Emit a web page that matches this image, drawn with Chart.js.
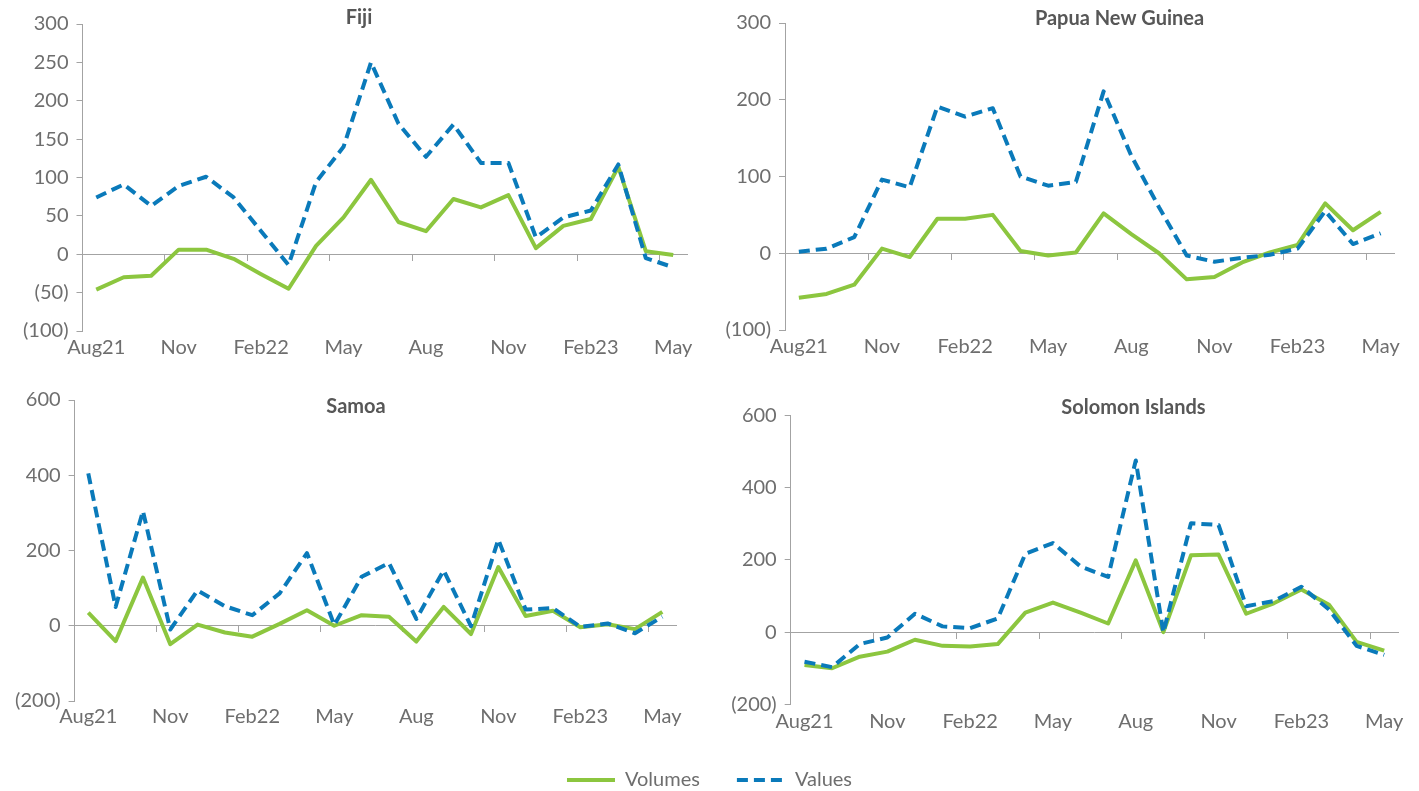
<!DOCTYPE html>
<html>
<head>
<meta charset="utf-8">
<title>Volumes and values by country</title>
<script src="https://cdn.jsdelivr.net/npm/chart.js@4.4.1/dist/chart.umd.min.js"></script>
<style>
  html, body { margin: 0; padding: 0; background: #ffffff; width: 1419px; height: 791px; overflow: hidden; }
  canvas { position: absolute; }
</style>
</head>
<body>
<canvas id="fiji"></canvas>
<canvas id="png"></canvas>
<canvas id="samoa"></canvas>
<canvas id="solomon"></canvas>
<canvas id="legend"></canvas>
<script>
// ---- data -------------------------------------------------------------
const categories = ['Aug21', 'Sep', 'Oct', 'Nov', 'Dec', 'Jan22', 'Feb22', 'Mar', 'Apr', 'May', 'Jun',
                    'Jul', 'Aug', 'Sep', 'Oct', 'Nov', 'Dec', 'Jan23', 'Feb23', 'Mar', 'Apr', 'May'];
const tickLabels = ['Aug21', 'Nov', 'Feb22', 'May', 'Aug', 'Nov', 'Feb23', 'May'];
const tickEvery = 3;
const seriesNames = ['Volumes', 'Values'];

const fijiVolumes = [-46, -30, -28, 6, 6, -6, -26, -45, 11, 48, 97, 42, 30, 72, 61, 77, 8, 37, 46, 114, 4, -1];
const fijiValues  = [74, 91, 63, 89, 101, 74, 30, -14, 94, 140, 250, 170, 127, 169, 119, 119, 22, 48, 57, 117, -5, -17];
const fijiYTicks  = [-100, -50, 0, 50, 100, 150, 200, 250, 300];

const pngVolumes = [-58, -53, -41, 6, -5, 45, 45, 50, 3, -3, 1, 52, 25, 0, -34, -31, -12, 1, 11, 65, 30, 54];
const pngValues  = [2, 6, 21, 96, 86, 191, 178, 189, 100, 88, 93, 211, 127, 60, -3, -11, -6, -2, 6, 55, 12, 26];
const pngYTicks  = [-100, 0, 100, 200, 300];

const samoaVolumes = [35, -41, 128, -49, 3, -18, -29, 5, 41, 0, 28, 24, -42, 50, -22, 156, 26, 40, -4, 4, -9, 37];
const samoaValues  = [405, 50, 305, -10, 94, 52, 28, 86, 193, 2, 130, 167, 18, 147, -1, 229, 43, 47, -3, 6, -20, 24];
const samoaYTicks  = [-200, 0, 200, 400, 600];

const solomonVolumes = [-91, -100, -68, -54, -21, -38, -40, -33, 54, 82, 54, 24, 199, 0, 213, 215, 51, 80, 118, 76, -27, -51];
const solomonValues  = [-82, -97, -33, -15, 51, 16, 11, 38, 217, 247, 182, 153, 476, -1, 302, 297, 72, 86, 126, 63, -38, -63];
const solomonYTicks  = [-200, 0, 200, 400, 600];

// ---- styling ----------------------------------------------------------
const GREEN = '#8cc63f';
const BLUE = '#0a7aba';
const AXIS = '#a3a3a3';
const TEXT = '#6e6e6e';
const TITLE = '#575757';
const FONT = 'Lato, "Open Sans", "DejaVu Sans", sans-serif';
const FONT_SIZE = 20;
const LINE_H = FONT_SIZE * 1.2;
const LABEL_SHIFT = 7;          // bottom labels sit this much above a plain half-line offset
const DASH = [11, 6];

// Placement of each panel on the page (canvas origin, plot area, title centre, x-label centre)
const panels = [
  { id: 'fiji', title: 'Fiji', volumes: fijiVolumes, values: fijiValues, yTicks: fijiYTicks,
    cx: 0, cy: 0, h: 370, L: 82.5, R: 687, T: 24, B: 331, titleX: 358.8, titleY: 17.8, labelY: 346.5 },
  { id: 'png', title: 'Papua New Guinea', volumes: pngVolumes, values: pngValues, yTicks: pngYTicks,
    cx: 710, cy: 0, h: 370, L: 785, R: 1394.5, T: 23, B: 330, titleX: 1119.6, titleY: 18.3, labelY: 345.5 },
  { id: 'samoa', title: 'Samoa', volumes: samoaVolumes, values: samoaValues, yTicks: samoaYTicks,
    cx: 0, cy: 380, h: 360, L: 74.6, R: 676, T: 399.3, B: 701, titleX: 356, titleY: 406.3, labelY: 715.8 },
  { id: 'solomon', title: 'Solomon Islands', volumes: solomonVolumes, values: solomonValues, yTicks: solomonYTicks,
    cx: 710, cy: 380, h: 360, L: 790.7, R: 1398, T: 415.7, B: 704.3, titleX: 1133.6, titleY: 407.8, labelY: 720.3 }
];

function bracketNegative(v) {
  return v < 0 ? '(' + Math.abs(v) + ')' : String(v);
}

function placeCanvas(canvas, left, top, width, height) {
  canvas.width = width;
  canvas.height = height;
  canvas.style.left = left + 'px';
  canvas.style.top = top + 'px';
  canvas.style.width = width + 'px';
  canvas.style.height = height + 'px';
}

function buildPanel(p) {
  const W = Math.round(2 * (p.titleX - p.cx));
  const canvas = document.getElementById(p.id);
  placeCanvas(canvas, p.cx, p.cy, W, p.h);

  const leftW = p.L - p.cx;
  const rightW = p.cx + W - p.R;
  const titleH = p.T - p.cy;
  const titleTop = p.titleY - p.cy - LINE_H / 2;
  const axisH = p.cy + p.h - p.B;
  const labelPad = p.labelY - p.B - LINE_H / 2 - LABEL_SHIFT;
  const yMin = p.yTicks[0];
  const yMax = p.yTicks[p.yTicks.length - 1];
  const yStep = p.yTicks[1] - p.yTicks[0];
  const tickFont = { family: FONT, size: FONT_SIZE };

  return new Chart(canvas, {
    type: 'line',
    data: {
      labels: categories,
      datasets: [
        { label: seriesNames[0], data: p.volumes, borderColor: GREEN, backgroundColor: GREEN,
          borderWidth: 4, pointRadius: 0, tension: 0, borderJoinStyle: 'round', order: 1,
          xAxisID: 'x', yAxisID: 'y' },
        { label: seriesNames[1], data: p.values, borderColor: BLUE, backgroundColor: BLUE,
          borderWidth: 4, borderDash: DASH, borderCapStyle: 'butt', pointRadius: 0, tension: 0,
          borderJoinStyle: 'round', order: 0, xAxisID: 'x', yAxisID: 'y' }
      ]
    },
    options: {
      responsive: false,
      devicePixelRatio: 1,
      animation: false,
      events: [],
      layout: { padding: 0 },
      scales: {
        x: {
          type: 'category',
          position: 'bottom',
          offset: true,
          grid: { display: false },
          border: { display: false },
          ticks: {
            autoSkip: false, maxRotation: 0, minRotation: 0, padding: labelPad,
            font: tickFont, color: TEXT,
            callback: (v, i) => (i % tickEvery === 0 ? tickLabels[i / tickEvery] : '')
          },
          afterFit: s => { s.height = axisH; }
        },
        x0: {
          type: 'category',
          axis: 'x',
          position: { y: 0 },
          offset: true,
          grid: {
            display: true, offset: true, drawOnChartArea: false, drawTicks: true, tickLength: 6, lineWidth: 1,
            color: ctx => (ctx.index > 0 && ctx.index % tickEvery === 0 ? AXIS : 'rgba(0,0,0,0)')
          },
          border: { display: true, color: AXIS, width: 1 },
          ticks: { display: false }
        },
        y: {
          type: 'linear',
          position: 'left',
          min: yMin,
          max: yMax,
          grid: { display: true, drawOnChartArea: false, drawTicks: true, tickLength: 6, color: AXIS, lineWidth: 1 },
          border: { display: true, color: AXIS, width: 1 },
          ticks: { stepSize: yStep, autoSkip: false, padding: 8, font: tickFont, color: TEXT, callback: bracketNegative },
          afterFit: s => { s.width = leftW; }
        },
        pad: {
          type: 'linear',
          position: 'right',
          display: true,
          grid: { display: false },
          border: { display: false },
          ticks: { display: false },
          afterFit: s => { s.width = rightW; }
        }
      },
      plugins: {
        legend: { display: false },
        tooltip: { enabled: false },
        title: {
          display: true,
          text: p.title,
          color: TITLE,
          font: { family: FONT, size: FONT_SIZE, weight: 'bold', lineHeight: 1.2 },
          padding: { top: titleTop, bottom: titleH - LINE_H - titleTop }
        }
      }
    }
  });
}

// Shared legend below the four panels
const LEGEND_Y = 780;
const LEGEND_GAP = 37;

function buildLegend() {
  const canvas = document.getElementById('legend');
  // legend row centre = canvas top + gap + half a font size
  placeCanvas(canvas, 0, LEGEND_Y - LEGEND_GAP - FONT_SIZE / 2, 1419, 240);
  return new Chart(canvas, {
    type: 'line',
    data: {
      labels: [],
      datasets: [
        { label: seriesNames[0], data: [], borderColor: GREEN, borderWidth: 4 },
        { label: seriesNames[1], data: [], borderColor: BLUE, borderWidth: 4, borderDash: DASH }
      ]
    },
    options: {
      responsive: false,
      devicePixelRatio: 1,
      animation: false,
      events: [],
      layout: { padding: 0 },
      scales: { x: { display: false }, y: { display: false } },
      plugins: {
        tooltip: { enabled: false },
        title: { display: false },
        legend: {
          display: true,
          position: 'top',
          labels: {
            usePointStyle: true,
            pointStyleWidth: 48,
            padding: LEGEND_GAP,
            color: TEXT,
            font: { family: FONT, size: FONT_SIZE },
            generateLabels: chart => chart.data.datasets.map((ds, i) => ({
              text: ds.label,
              strokeStyle: ds.borderColor,
              fillStyle: 'rgba(0,0,0,0)',
              lineWidth: ds.borderWidth,
              lineDash: ds.borderDash || [],
              lineCap: 'butt',
              pointStyle: 'line',
              fontColor: TEXT,
              hidden: false,
              datasetIndex: i
            }))
          }
        }
      }
    }
  });
}

function drawAll() {
  panels.forEach(buildPanel);
  buildLegend();
}

const fontsReady = document.fonts
  ? Promise.all([document.fonts.load('20px Lato'), document.fonts.load('bold 20px Lato')])
  : Promise.resolve();
fontsReady.then(drawAll, drawAll);
</script>
</body>
</html>
